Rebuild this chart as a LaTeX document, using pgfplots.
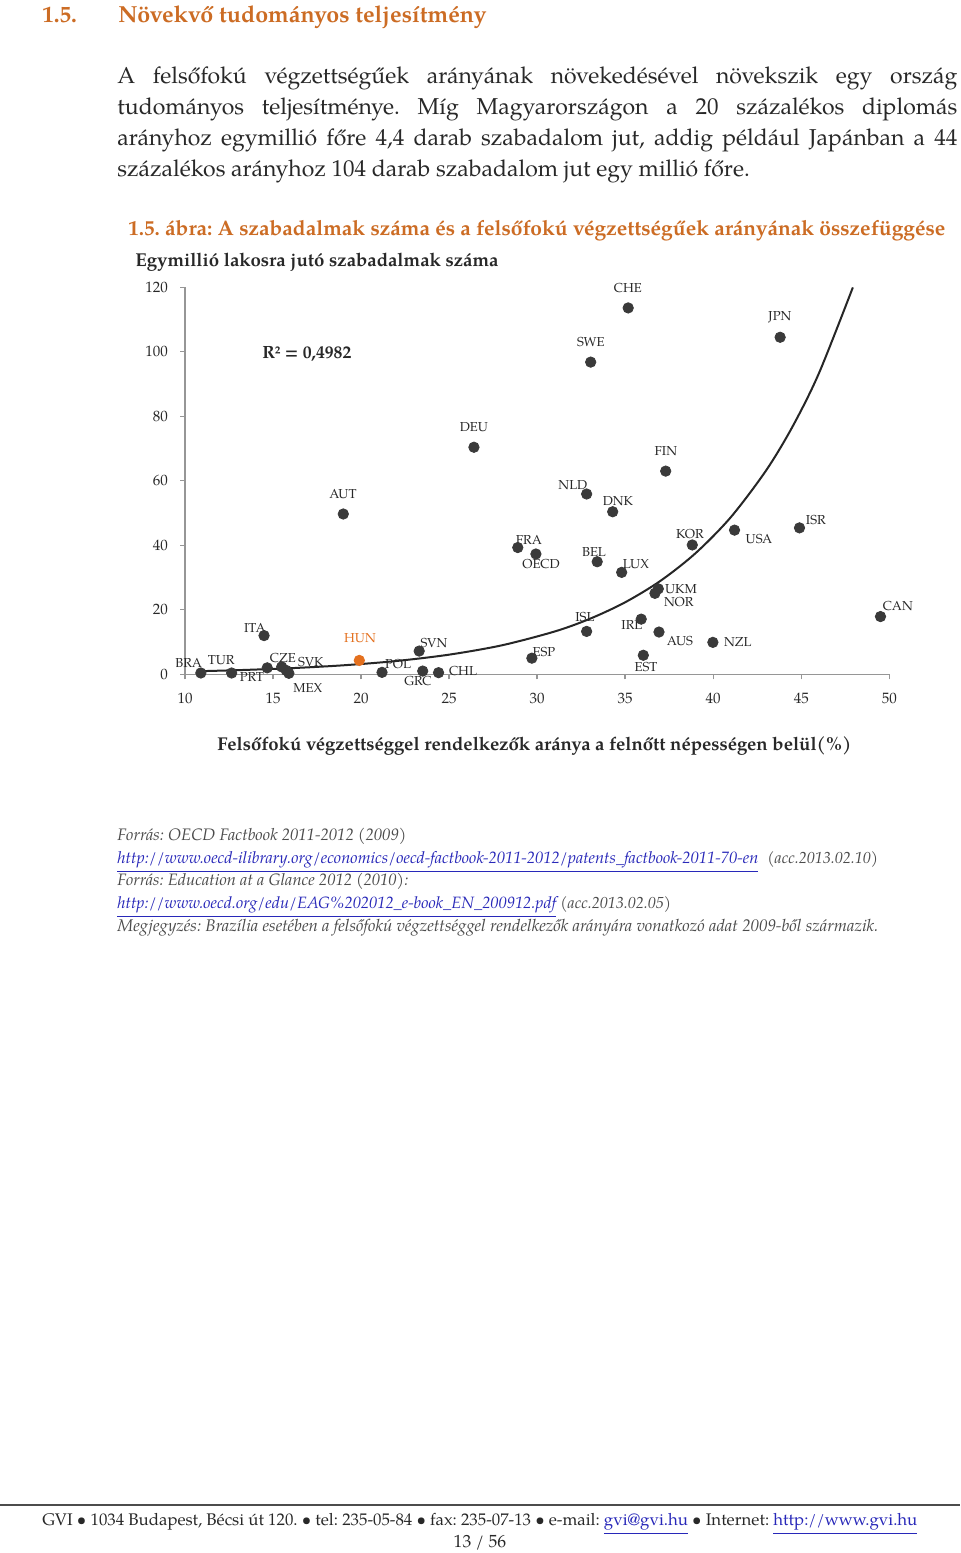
\documentclass[border=0pt]{standalone}
\usepackage{fontspec}
\setmainfont{TeX Gyre Pagella}
\usepackage{graphicx}
\usepackage{pgfplots}
\pgfplotsset{compat=1.18}
\definecolor{orng}{RGB}{204,108,36}
\definecolor{hun}{RGB}{228,112,30}
\definecolor{dot}{RGB}{58,58,58}
\definecolor{txt}{RGB}{40,40,40}
\definecolor{src}{RGB}{75,75,75}
\definecolor{axgray}{RGB}{150,150,150}
\definecolor{lnk}{RGB}{40,40,185}
\newcommand{\bodyf}{\fontsize{11.5}{15}\selectfont}
\newcommand{\srcf}{\fontsize{8}{10}\selectfont\itshape}
\frenchspacing
\tikzset{lab/.style={font=\fontsize{6.5}{8}\selectfont, text=txt, inner sep=0pt}}
\begin{document}
\begin{tikzpicture}[x=0.5pt,y=0.5pt]
\path[fill=white,use as bounding box] (0,0) rectangle (960,1553);
\coordinate (AO) at (185,1553-674.3);
% header
\node[anchor=base west,inner sep=0,text=orng,font=\fontsize{11.5}{13}\selectfont\bfseries] at (42,1553-23) {1.5.};
\node[anchor=base west,inner sep=0,text=orng] at (118,1553-23) {\resizebox{184pt}{!}{\fontsize{11.5}{13}\selectfont\bfseries Növekvő tudományos teljesítmény}};
% body
\node[anchor=base west,inner sep=0,text=txt,font=\bodyf] at (117,1553-84) {\makebox[420pt][s]{A felsőfokú végzettségűek arányának növekedésével növekszik egy ország}};
\node[anchor=base west,inner sep=0,text=txt,font=\bodyf] at (117,1553-115) {\makebox[420pt][s]{tudományos teljesítménye. Míg Magyarországon a 20 százalékos diplomás}};
\node[anchor=base west,inner sep=0,text=txt,font=\bodyf] at (117,1553-146) {\makebox[420pt][s]{arányhoz egymillió főre 4,4 darab szabadalom jut, addig például Japánban a 44}};
\node[anchor=base west,inner sep=0,text=txt,font=\bodyf] at (117,1553-177) {százalékos arányhoz 104 darab szabadalom jut egy millió főre.};
% caption
\node[anchor=base west,inner sep=0,text=orng] at (128,1553-236) {\resizebox{408.5pt}{!}{\fontsize{10}{12}\selectfont\bfseries 1.5. ábra: A szabadalmak száma és a felsőfokú végzettségűek arányának összefüggése}};
\node[anchor=base west,inner sep=0,text=txt] at (135,1553-267) {\resizebox{181.5pt}{!}{\fontsize{9}{11}\selectfont\bfseries Egymillió lakosra jutó szabadalmak száma}};
\node[anchor=base west,inner sep=0,text=txt] at (217,1553-751) {\resizebox{317pt}{!}{\fontsize{9}{11}\selectfont\bfseries Felsőfokú végzettséggel rendelkezők aránya a felnőtt népességen belül(\%)}};
\node[anchor=base west,inner sep=0,text=txt] at (262,1553-359) {\resizebox{44.5pt}{!}{\fontsize{8.5}{10}\selectfont\bfseries R² = 0,4982}};

\begin{axis}[
  at={(AO)}, anchor=south west,
  scale only axis, width=352.15pt, height=193.5pt,
  xmin=10, xmax=50, ymin=0, ymax=120,
  axis x line=bottom, axis y line=left,
  axis line style={axgray, line width=0.7pt, -},
  xtick={10,15,...,50}, ytick={0,20,...,120},
  tick align=outside, major tick length=2.5pt,
  tick style={axgray, line width=0.7pt},
  ticklabel style={font=\fontsize{7.5}{9}\selectfont, text=txt},
  yticklabel style={xshift=-2.5pt},
  xticklabel style={yshift=-3.5pt},
  /pgf/number format/assume math mode=true,
  clip=false,
]
\addplot[smooth, line width=1pt, color=black!85, no marks] coordinates {
(10.9,0.97) (13,1.28) (16,1.89) (19,2.79) (22,4.12) (25,6.09) (28,8.99)
(31,13.28) (33,17.22) (35,22.33) (37,28.96) (39,37.57) (41,48.72)
(43,63.18) (44.5,76.76) (46,93.3) (47.93,119.96)};
\addplot[only marks, mark=*, mark size=2.6pt, color=dot] coordinates {
(10.9,0.4) (12.65,0.4) (14.67,2.0) (15.49,2.3) (15.75,1.2) (15.9,0.3)
(14.49,12.0) (21.19,0.6) (23.3,7.2) (23.5,1.0) (24.4,0.5) (29.7,5.0)
(28.9,39.3) (29.93,37.3) (18.99,49.7) (26.41,70.4) (32.81,55.9) (34.29,50.4)
(33.41,34.9) (34.8,31.6) (38.81,40.1) (41.21,44.7) (44.9,45.4) (36.88,26.5)
(36.69,25.1) (32.81,13.3) (35.91,17.1) (36.92,13.1) (39.98,9.9) (36.03,5.9)
(49.5,17.9) (37.3,63.0) (35.17,113.6) (33.04,96.8) (43.8,104.5)};
\addplot[only marks, mark=*, mark size=2.6pt, color=hun] coordinates {(19.9,4.3)};
\node[lab] at (axis cs:35.15,119.8) {CHE};
\node[lab] at (axis cs:43.79,110.8) {JPN};
\node[lab] at (axis cs:33.05,103.0) {SWE};
\node[lab] at (axis cs:26.41,76.7) {DEU};
\node[lab] at (axis cs:37.31,69.2) {FIN};
\node[lab] at (axis cs:18.97,55.9) {AUT};
\node[lab] at (axis cs:32.03,58.7) {NLD};
\node[lab] at (axis cs:34.59,53.7) {DNK};
\node[lab] at (axis cs:29.53,41.6) {FRA};
\node[lab] at (axis cs:30.22,34.2) {OECD};
\node[lab] at (axis cs:33.23,37.9) {BEL};
\node[lab] at (axis cs:35.61,34.2) {LUX};
\node[lab] at (axis cs:38.68,43.5) {KOR};
\node[lab] at (axis cs:42.6,41.9) {USA};
\node[lab] at (axis cs:45.83,47.8) {ISR};
\node[lab] at (axis cs:38.17,26.5) {UKM};
\node[lab] at (axis cs:38.05,22.4) {NOR};
\node[lab] at (axis cs:50.49,21.2) {CAN};
\node[lab] at (axis cs:32.71,17.8) {ISL};
\node[lab] at (axis cs:35.38,15.3) {IRL};
\node[lab] at (axis cs:38.11,10.3) {AUS};
\node[lab] at (axis cs:41.4,10.0) {NZL};
\node[lab] at (axis cs:36.18,2.3) {EST};
\node[lab] at (axis cs:30.39,6.9) {ESP};
\node[lab] at (axis cs:24.14,9.7) {SVN};
\node[lab,text=hun] at (axis cs:19.94,11.3) {HUN};
\node[lab] at (axis cs:13.97,14.4) {ITA};
\node[lab] at (axis cs:25.79,1.0) {CHL};
\node[lab] at (axis cs:22.1,3.2) {POL};
\node[lab] at (axis cs:23.23,-2.1) {GRC};
\node[lab] at (axis cs:16.98,-4.2) {MEX};
\node[lab] at (axis cs:17.15,3.7) {SVK};
\node[lab] at (axis cs:15.56,5.1) {CZE};
\node[lab] at (axis cs:13.8,-0.7) {PRT};
\node[lab] at (axis cs:12.06,4.5) {TUR};
\node[lab] at (axis cs:10.21,3.6) {BRA};
\end{axis}

% sources
\node[anchor=base west,inner sep=0,text=src] at (117,1553-841) {\resizebox{144.5pt}{!}{\srcf Forrás: OECD Factbook 2011-2012 (2009)}};
\node[anchor=base west,inner sep=0,text=lnk] at (117,1553-864) {\resizebox{320.5pt}{!}{\srcf \underline{http://www.oecd-ilibrary.org/economics/oecd-factbook-2011-2012/patents\_factbook-2011-70-en}}};
\node[anchor=base west,inner sep=0,text=src,font=\srcf] at (767,1553-864) {(acc.2013.02.10)};
\node[anchor=base west,inner sep=0,text=src] at (117,1553-886) {\resizebox{145.5pt}{!}{\srcf Forrás: Education at a Glance 2012 (2010):}};
\node[anchor=base west,inner sep=0,text=lnk] at (117,1553-909) {\resizebox{219.5pt}{!}{\srcf \underline{http://www.oecd.org/edu/EAG\%202012\_e-book\_EN\_200912.pdf}}};
\node[anchor=base west,inner sep=0,text=src,font=\srcf] at (560,1553-909) {(acc.2013.02.05)};
\node[anchor=base west,inner sep=0,text=src] at (117,1553-932) {\resizebox{380.5pt}{!}{\srcf Megjegyzés: Brazília esetében a felsőfokú végzettséggel rendelkezők arányára vonatkozó adat 2009-ből származik.}};
% footer
\draw[line width=1pt, color=black!70] (0,1553-1505) -- (960,1553-1505);
\node[anchor=base west,inner sep=0,text=txt] at (42,1553-1526) {\resizebox{437.5pt}{!}{\fontsize{8.8}{10}\selectfont GVI • 1034 Budapest, Bécsi út 120. • tel: 235-05-84 • fax: 235-07-13 • e-mail: \textcolor{lnk}{\underline{gvi@gvi.hu}} • Internet: \textcolor{lnk}{\underline{http://www.gvi.hu}}}};
\node[anchor=base,inner sep=0,text=txt,font=\fontsize{8.8}{10}\selectfont] at (480,1553-1548) {13 / 56};
\end{tikzpicture}
\end{document}
